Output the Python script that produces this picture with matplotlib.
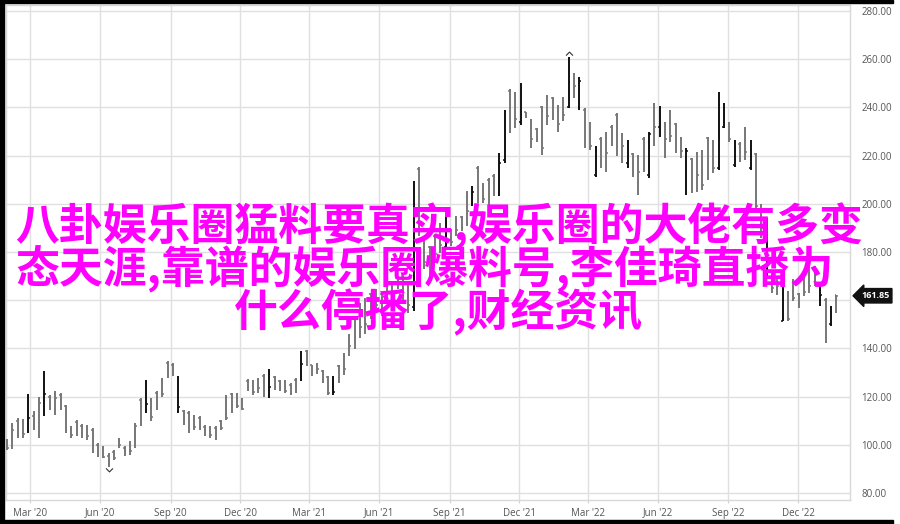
import numpy as np
import pandas as pd
import matplotlib
matplotlib.use("Agg")
import matplotlib.pyplot as plt
import matplotlib.dates as mdates
from matplotlib.patches import Rectangle
from matplotlib.path import Path
import matplotlib.transforms as mtransforms

# weekly bars, Jan 2020 - Jan 2023
dates = pd.date_range("2020-01-31", periods=156, freq="7D")

highs = [102.4, 109.0, 111.0, 110.7, 121.0, 113.9, 120.0, 130.8, 120.6, 122.2,
         121.3, 116.7, 107.6, 110.4, 108.6, 108.3, 106.9, 100.7, 99.3, 96.5,
         97.9, 102.8, 99.3, 101.4, 109.0, 119.4, 127.0, 119.4, 122.2, 127.8,
         134.7, 134.0, 128.5, 114.6, 113.9, 112.5, 111.8, 108.3, 107.6, 107.6,
         110.4, 120.8, 121.5, 121.5, 119.4, 127.4, 127.0, 127.8, 129.2, 131.5,
         128.5, 127.0, 127.0, 125.7, 127.8, 139.0, 139.4, 133.3, 134.0, 131.0,
         128.4, 128.4, 133.3, 138.2, 145.9, 153.5, 159.0, 161.0, 163.2, 164.6,
         163.2, 167.3, 168.0, 170.0, 171.0, 167.3, 209.4, 215.3, 186.6, 182.5,
         187.3, 192.1, 194.9, 189.4, 194.9, 194.9, 205.2, 207.3, 215.6, 208.7,
         210.8, 212.2, 221.1, 239.0, 247.6, 246.6, 250.0, 238.3, 235.1, 231.4,
         240.4, 245.2, 244.5, 241.0, 244.5, 261.1, 254.2, 252.8, 239.7, 234.1,
         223.8, 227.9, 230.0, 232.8, 237.6, 229.3, 226.5, 221.0, 220.3, 227.9,
         230.0, 241.7, 240.4, 234.1, 239.0, 233.4, 227.9, 223.0, 218.9, 221.7,
         222.3, 227.9, 226.5, 246.5, 241.7, 234.1, 226.5, 225.8, 232.0, 226.5,
         221.0, 200.0, 194.1, 172.0, 170.0, 168.6, 163.7, 168.6, 163.0, 171.3,
         174.8, 174.0, 166.4, 160.9, 157.5, 162.3]
lows = [97.9, 98.2, 102.8, 102.8, 104.9, 106.3, 102.8, 111.8, 114.6, 112.5,
        114.6, 104.9, 102.8, 103.5, 102.8, 102.1, 96.5, 95.1, 94.4, 91.0,
        93.8, 98.6, 95.4, 95.8, 98.6, 107.6, 113.2, 109.7, 114.6, 120.0,
        127.8, 128.5, 113.2, 108.3, 104.9, 106.3, 106.3, 103.5, 102.8, 102.1,
        106.3, 110.4, 113.2, 115.3, 114.6, 122.2, 120.8, 121.5, 120.0, 119.4,
        122.9, 122.2, 121.5, 120.8, 121.5, 126.5, 132.8, 128.5, 129.5, 125.6,
        120.7, 120.7, 125.6, 129.1, 136.8, 139.7, 144.5, 146.0, 152.1, 155.0,
        153.5, 159.0, 158.0, 164.5, 160.0, 154.9, 155.6, 186.6, 172.8, 167.3,
        175.6, 179.7, 181.1, 182.5, 186.6, 188.7, 190.8, 199.0, 200.4, 200.4,
        199.7, 203.2, 203.2, 217.0, 229.4, 231.4, 232.8, 235.5, 223.1, 225.8,
        220.3, 232.8, 234.8, 230.0, 234.2, 239.7, 243.8, 239.0, 223.1, 222.4,
        211.3, 214.8, 213.0, 223.8, 220.0, 217.0, 214.8, 211.3, 203.7, 213.4,
        210.6, 223.8, 227.9, 218.9, 225.8, 221.0, 218.9, 203.7, 204.4, 205.1,
        205.8, 210.0, 212.7, 214.1, 231.3, 225.8, 215.4, 217.5, 218.2, 214.1,
        197.5, 186.0, 168.6, 163.0, 162.0, 151.3, 151.3, 159.6, 156.8, 161.7,
        163.0, 165.8, 157.5, 142.3, 149.2, 154.7]
opens = [101.0, 108.0, 110.0, 109.5, 106.0, 112.0, 119.0, 117.5, 120.0, 121.0,
         120.5, 116.0, 106.5, 109.5, 108.0, 107.5, 106.0, 100.0, 98.5, 95.5,
         97.0, 102.0, 98.5, 100.5, 108.5, 118.5, 114.0, 118.5, 121.5, 127.0,
         134.0, 133.0, 114.0, 114.0, 113.0, 111.5, 111.0, 107.5, 107.0, 107.0,
         110.0, 120.0, 121.0, 121.0, 119.0, 126.5, 126.5, 127.0, 128.5, 120.5,
         128.0, 126.5, 126.0, 125.0, 127.0, 127.0, 139.0, 133.0, 133.5, 130.5,
         128.0, 121.0, 132.5, 137.5, 145.0, 153.0, 158.5, 160.5, 162.5, 164.0,
         162.5, 166.5, 167.0, 169.5, 170.0, 166.5, 157.0, 214.5, 186.0, 182.0,
         186.5, 191.5, 182.0, 189.0, 194.0, 194.5, 204.5, 200.0, 215.0, 208.0,
         210.0, 211.5, 204.0, 218.0, 247.0, 246.0, 234.0, 238.0, 234.5, 231.0,
         240.0, 244.5, 244.0, 240.5, 244.0, 240.0, 253.5, 240.0, 239.0, 233.5,
         212.0, 227.0, 229.0, 232.0, 237.0, 228.5, 217.0, 220.5, 219.5, 227.0,
         212.0, 241.0, 232.0, 233.5, 238.5, 233.0, 227.5, 205.0, 218.5, 221.0,
         222.0, 227.5, 226.0, 215.0, 232.0, 233.5, 216.0, 225.0, 231.5, 215.0,
         220.5, 199.5, 170.0, 171.5, 169.5, 151.5, 163.0, 168.0, 162.5, 171.0,
         174.0, 173.5, 158.0, 160.0, 150.0, 162.0]
closes = [98.5, 106.0, 104.0, 104.5, 111.0, 107.0, 117.5, 121.0, 115.5, 119.5,
          118.0, 106.0, 104.0, 104.5, 105.0, 103.5, 97.5, 96.0, 95.0, 93.5,
          94.5, 100.0, 96.5, 97.5, 108.0, 113.0, 117.0, 111.5, 116.0, 121.0,
          129.5, 129.0, 115.5, 110.5, 106.5, 107.5, 107.0, 104.5, 104.0, 103.0,
          107.0, 111.0, 115.5, 116.0, 115.0, 123.0, 122.0, 123.5, 121.0, 124.0,
          124.5, 123.5, 122.5, 121.5, 122.5, 133.5, 136.5, 131.0, 131.5, 127.5,
          121.5, 122.0, 128.0, 131.5, 141.0, 145.0, 149.0, 150.0, 156.0, 158.0,
          156.5, 161.0, 160.0, 166.0, 162.0, 158.0, 200.0, 190.0, 176.0, 171.0,
          179.0, 183.0, 192.0, 184.0, 189.0, 190.0, 197.0, 205.0, 207.0, 202.0,
          204.0, 205.0, 217.0, 238.0, 236.0, 235.0, 245.0, 236.0, 227.0, 227.5,
          223.0, 236.5, 238.0, 233.0, 237.0, 250.0, 249.0, 251.0, 226.0, 224.0,
          222.0, 219.0, 221.0, 227.0, 228.0, 224.0, 218.0, 214.0, 213.0, 217.0,
          229.0, 232.0, 237.0, 227.0, 228.0, 226.5, 222.0, 222.0, 210.0, 212.0,
          208.0, 212.0, 215.0, 241.0, 236.0, 227.0, 223.0, 221.0, 221.5, 220.0,
          199.0, 190.0, 192.0, 165.0, 166.0, 152.0, 152.0, 161.0, 158.5, 163.5,
          166.0, 168.0, 162.0, 147.0, 153.0, 161.85]

yticks = [80, 100, 120, 140, 160, 180, 200, 220, 240, 260, 280]
last_price = 161.85

title_lines = ["八卦娱乐圈猛料要真实,娱乐圈的大佬有多变",
               "态天涯,靠谱的娱乐圈爆料号,李佳琦直播为",
               "什么停播了,财经资讯"]

plt.rcParams['font.family'] = ['Open Sans', 'DejaVu Sans']

fig = plt.figure(figsize=(9, 5.24), dpi=100)
ax = fig.add_axes([6 / 900, 24 / 524, 844 / 900, 495 / 524])

x = mdates.date2num(dates)
h = np.array(highs)
l = np.array(lows)
o = np.array(opens)
c = np.array(closes)
col = np.where(c > o, "#111111", "#777777")
tick = 2.0

ax.vlines(x, l, h, colors=col, linewidth=1.4, zorder=3)
ax.hlines(o, x - tick, x, colors=col, linewidth=1.1, zorder=3)
ax.hlines(c, x, x + tick, colors=col, linewidth=1.1, zorder=3)

# high / low markers
chev_up = Path([(-1, -0.6), (0, 0.4), (1, -0.6)], [Path.MOVETO, Path.LINETO, Path.LINETO])
chev_dn = Path([(-1, 0.6), (0, -0.4), (1, 0.6)], [Path.MOVETO, Path.LINETO, Path.LINETO])
ih = int(np.argmax(h))
il = int(np.argmin(l))
ax.plot(x[ih], h[ih] + 1.6, marker=chev_up, markersize=5, mfc="none", mec="#333", mew=0.8, zorder=4)
ax.plot(x[il], l[il] - 1.6, marker=chev_dn, markersize=5, mfc="none", mec="#333", mew=0.8, zorder=4)

ax.set_xlim(mdates.date2num(pd.Timestamp("2020-01-29 16:00")), mdates.date2num(pd.Timestamp("2023-02-07")))
ax.set_ylim(77.1, 282.5)

xt = pd.date_range("2020-03-01", "2022-12-01", freq="3MS")
ax.set_xticks(mdates.date2num(xt))
ax.set_xticklabels([d.strftime("%b '%y") for d in xt])
ax.set_yticks(yticks)
# the 160 label sits under the last-price tag
ax.set_yticklabels(["" if v == 160 else "%.2f" % v for v in yticks])
ax.yaxis.tick_right()
ax.tick_params(axis="y", length=0, pad=8, labelsize=7, labelcolor="#555555")
ax.tick_params(axis="x", length=2, color="#d0d0d0", pad=9.2, labelsize=7, labelcolor="#555555")
for lab in ax.get_xticklabels():
    lab.set_verticalalignment("baseline")
ax.grid(True, color="#e0e0e0", linewidth=1.0, zorder=0)
for s in ax.spines.values():
    s.set_color("#d8d8d8")
    s.set_linewidth(1.0)

# last price tag
trans = mtransforms.blended_transform_factory(ax.transAxes, ax.transData)
ax.text(1.013, last_price, "%.2f" % last_price, transform=trans, ha="left", va="center",
        fontsize=6.5, fontweight="bold", color="white", zorder=6,
        bbox=dict(boxstyle="larrow,pad=0.3", fc="#111111", ec="#111111"))

# overlay caption
cjk = ['Noto Sans CJK SC', 'DejaVu Sans']
fig.text(15 / 900, 1 - 226 / 524, title_lines[0], ha="left", va="center", fontsize=31.6,
         fontweight="bold", color="#ff00ff", family=cjk, zorder=10)
fig.text(15 / 900, 1 - 269 / 524, title_lines[1], ha="left", va="center", fontsize=31.6,
         fontweight="bold", color="#ff00ff", family=cjk, zorder=10)
fig.text(438 / 900, 1 - 312 / 524, title_lines[2], ha="center", va="center", fontsize=31.6,
         fontweight="bold", color="#ff00ff", family=cjk, zorder=10)

# black frame on the image edges
fig.patches.append(Rectangle((0, 0), 4 / 900, 1, transform=fig.transFigure, color="black", zorder=20))
fig.patches.append(Rectangle((0, 1 - 3 / 524), 893 / 900, 3 / 524, transform=fig.transFigure, color="black", zorder=20))
fig.patches.append(Rectangle((0, 0), 893 / 900, 4 / 524, transform=fig.transFigure, color="black", zorder=20))

fig.savefig("out.png", dpi=100)
